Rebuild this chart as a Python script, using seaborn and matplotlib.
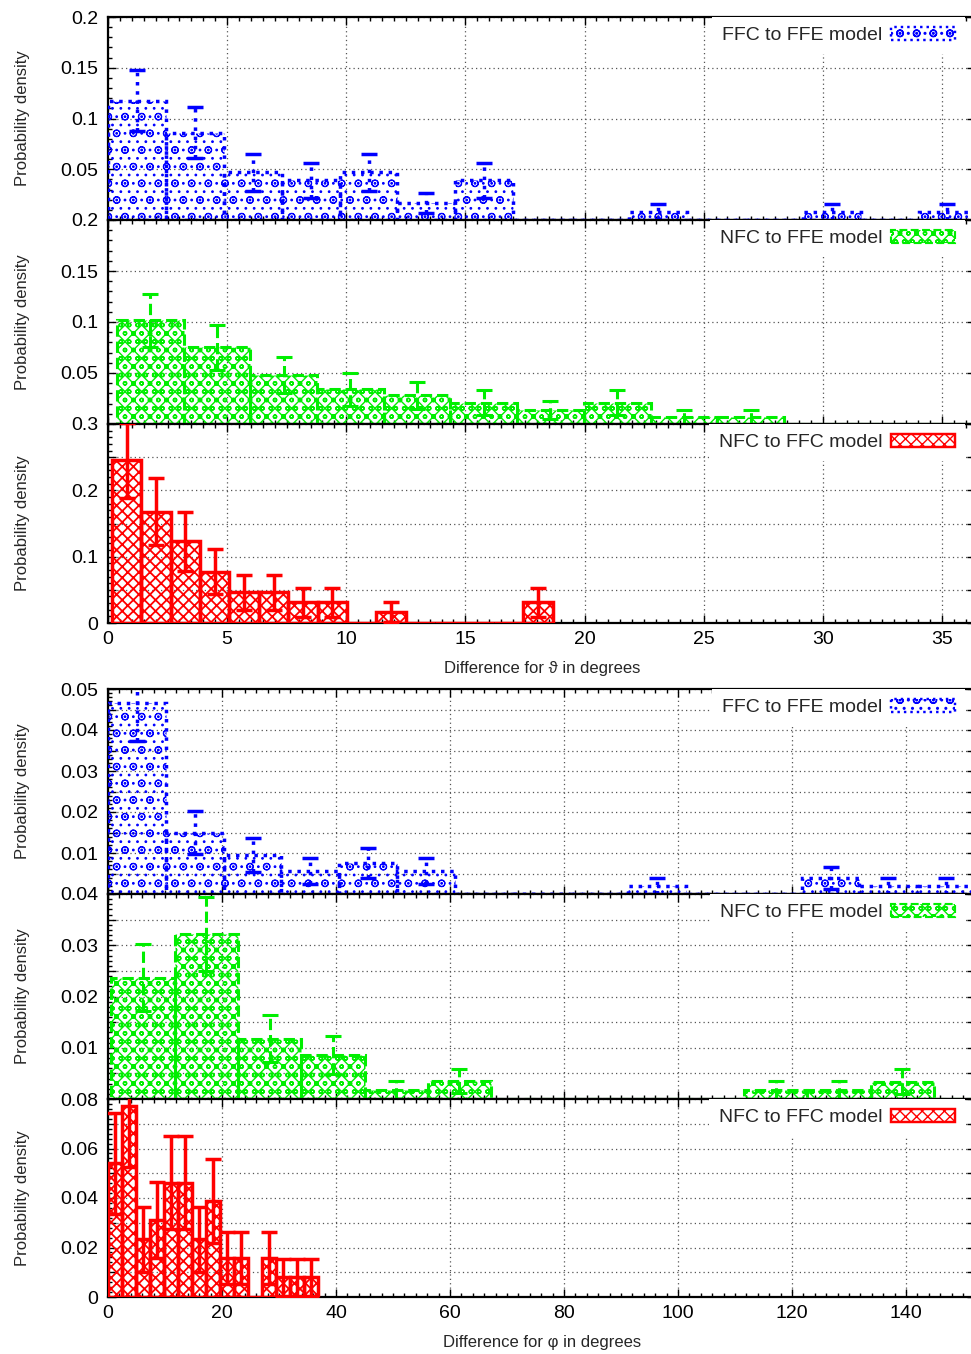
import numpy as np
import pandas as pd
import matplotlib
matplotlib.use('Agg')
import matplotlib.pyplot as plt
from matplotlib.patches import Patch
from matplotlib.ticker import FixedLocator, FixedFormatter, MultipleLocator
import seaborn as sns

# Histogrammdaten: Start, Binbreite, Hoehen, Fehler
theta_ffc_ffe_bins = (0.0, 2.43)
theta_ffc_ffe = [0.1176, 0.086, 0.047, 0.039, 0.047, 0.017, 0.039, 0, 0, 0.0078, 0, 0, 0.0078, 0, 0.0078]
theta_ffc_ffe_err = [0.030, 0.025, 0.018, 0.017, 0.018, 0.010, 0.017, 0, 0, 0.008, 0, 0, 0.008, 0, 0.008]

theta_nfc_ffe_bins = (0.37, 2.8)
theta_nfc_ffe = [0.1018, 0.075, 0.048, 0.034, 0.028, 0.021, 0.014, 0.021, 0.007, 0.007, 0, 0, 0]
theta_nfc_ffe_err = [0.026, 0.022, 0.018, 0.016, 0.013, 0.012, 0.009, 0.012, 0.007, 0.007, 0, 0, 0]

theta_nfc_ffc_bins = (0.16, 1.234)
theta_nfc_ffc = [0.245, 0.168, 0.123, 0.077, 0.046, 0.046, 0.031, 0.031, 0, 0.016, 0, 0, 0, 0, 0.031]
theta_nfc_ffc_err = [0.056, 0.051, 0.044, 0.034, 0.026, 0.026, 0.022, 0.022, 0, 0.015, 0, 0, 0, 0, 0.022]

phi_ffc_ffe_bins = (0.0, 10.14)
phi_ffc_ffe = [0.0466, 0.015, 0.0095, 0.0056, 0.0076, 0.0056, 0, 0, 0, 0.0019, 0, 0, 0.0038, 0.0019, 0.0019]
phi_ffc_ffe_err = [0.0093, 0.0052, 0.0041, 0.0032, 0.0036, 0.0032, 0, 0, 0, 0.0019, 0, 0, 0.0027, 0.0019, 0.0019]

phi_nfc_ffe_bins = (0.6, 11.1)
phi_nfc_ffe = [0.0237, 0.0322, 0.0118, 0.0086, 0.0018, 0.0035, 0, 0, 0, 0, 0.0018, 0.0018, 0.0034, 0]
phi_nfc_ffe_err = [0.0065, 0.0072, 0.0046, 0.0037, 0.0018, 0.0024, 0, 0, 0, 0, 0.0018, 0.0018, 0.0024, 0]

phi_nfc_ffc_bins = (0.0, 2.46)
phi_nfc_ffc = [0.054, 0.0772, 0.0233, 0.031, 0.0462, 0.0462, 0.0233, 0.0387, 0.0157, 0.0157, 0, 0.0157, 0.008, 0.008, 0.008]
phi_nfc_ffc_err = [0.0203, 0.0245, 0.0131, 0.0153, 0.0187, 0.0187, 0.0131, 0.017, 0.0105, 0.0105, 0, 0.0105, 0.0074, 0.0074, 0.0074]

labels = ['FFC to FFE model', 'NFC to FFE model', 'NFC to FFC model']
xlabel_theta = 'Difference for \u03d1 in degrees'
xlabel_phi = 'Difference for \u03c6 in degrees'

sns.set_style('ticks')
plt.rcParams['font.family'] = ['Liberation Sans', 'DejaVu Sans']
plt.rcParams['hatch.linewidth'] = 1.0

stile = [
    dict(color='#0000ff', hatch='o..', ls=':', lw=2.5, hlw=0.8),
    dict(color='#00ee00', hatch='xxoo', ls='--', lw=2.2, hlw=1.0),
    dict(color='#ff0000', hatch='xxx', ls='-', lw=2.5, hlw=1.3),
]

W, H = 971, 1354
fig = plt.figure(figsize=(W / 100, H / 100), dpi=100)

# (oben, unten) in Pixel
panel_px = [(17, 220), (220, 424), (424, 623), (689, 894), (894, 1099), (1099, 1297)]
left_px, right_px = 108, 975
aw = right_px - left_px

panels = [
    (theta_ffc_ffe_bins, theta_ffc_ffe, theta_ffc_ffe_err, 0, 0.2, 0.05, 0.05, 0.01, 'theta'),
    (theta_nfc_ffe_bins, theta_nfc_ffe, theta_nfc_ffe_err, 1, 0.2, 0.05, 0.05, 0.01, 'theta'),
    (theta_nfc_ffc_bins, theta_nfc_ffc, theta_nfc_ffc_err, 2, 0.3, 0.05, 0.1, 0.01, 'theta'),
    (phi_ffc_ffe_bins, phi_ffc_ffe, phi_ffc_ffe_err, 0, 0.05, 0.005, 0.01, 0.001, 'phi'),
    (phi_nfc_ffe_bins, phi_nfc_ffe, phi_nfc_ffe_err, 1, 0.04, 0.005, 0.01, 0.001, 'phi'),
    (phi_nfc_ffc_bins, phi_nfc_ffc, phi_nfc_ffc_err, 2, 0.08, 0.01, 0.02, 0.002, 'phi'),
]

for i, (bins, vals, errs, k, ytop, gstep, lstep, mstep, winkel) in enumerate(panels):
    top, bot = panel_px[i]
    ax = fig.add_axes([left_px / W, 1 - bot / H, aw / W, (bot - top) / H])
    st = stile[k]
    start, width = bins
    edges = start + width * np.arange(len(vals) + 1)
    centers = edges[:-1] + width / 2
    df = pd.DataFrame({'x': centers, 'w': vals})

    sns.histplot(data=df, x='x', weights='w', bins=list(edges), ax=ax, stat='count',
                 element='bars', fill=True, alpha=1, legend=False)
    for p in ax.patches:
        p.set_facecolor('none')
        p.set_edgecolor(st['color'])
        p.set_hatch(st['hatch'])
        if hasattr(p, 'set_hatch_linewidth'):
            p.set_hatch_linewidth(st['hlw'])
        p.set_linestyle(st['ls'])
        p.set_linewidth(st['lw'])
        p.set_zorder(2.6)

    vals_a = np.array(vals)
    errs_a = np.array(errs)
    m = errs_a > 0
    eb = ax.errorbar(centers[m], vals_a[m], yerr=errs_a[m], fmt='none',
                     ecolor=st['color'], elinewidth=st['lw'], capsize=6,
                     capthick=st['lw'], zorder=3)
    eb[2][0].set_linestyle(st['ls'])

    # Achsen
    if winkel == 'theta':
        ax.set_xlim(0, 36.39)
        ax.xaxis.set_major_locator(MultipleLocator(5))
        ax.xaxis.set_minor_locator(MultipleLocator(0.5))
    else:
        ax.set_xlim(0, 152.1)
        ax.xaxis.set_major_locator(MultipleLocator(20))
        ax.xaxis.set_minor_locator(MultipleLocator(2))
    ax.set_ylim(0, ytop)

    gpos = np.round(np.arange(0, ytop + gstep / 2, gstep), 5)
    glab = []
    for g in gpos:
        if g == 0:
            glab.append('0' if k == 2 else '')
        elif abs(round(g / lstep) * lstep - g) < 1e-9:
            glab.append('%g' % g)
        else:
            glab.append('')
    ax.yaxis.set_major_locator(FixedLocator(gpos))
    ax.yaxis.set_major_formatter(FixedFormatter(glab))
    ax.yaxis.set_minor_locator(MultipleLocator(mstep))

    ax.tick_params(which='both', direction='in', top=True, right=True, width=1, colors='black')
    ax.tick_params(which='major', length=6, labelsize=14, pad=7)
    ax.tick_params(which='minor', length=3)
    ax.tick_params(axis='x', pad=6)
    if k != 2:
        ax.tick_params(axis='x', labelbottom=False)

    ax.grid(True, which='major', color='#555555', linestyle=(0, (1, 2.5)), linewidth=0.9)
    ax.set_axisbelow(True)
    for s in ax.spines.values():
        s.set_linewidth(1.6)
        s.set_color('black')

    ax.set_ylabel('Probability density', fontsize=12)
    ax.yaxis.set_label_coords(-0.0895, 0.5)
    if k == 2:
        ax.set_xlabel(xlabel_theta if winkel == 'theta' else xlabel_phi, fontsize=12)
        ax.xaxis.set_label_coords(0.5 + 1 / aw, -(38 / (bot - top)))
    else:
        ax.set_xlabel('')

    handle = Patch(facecolor='none', edgecolor=st['color'], hatch=st['hatch'],
                   linestyle=st['ls'], linewidth=st['lw'] * 0.7)
    leg = ax.legend([handle], [labels[k]], loc='upper right', fontsize=14,
                    markerfirst=False, handlelength=3.3, handleheight=0.7,
                    frameon=True, fancybox=False, framealpha=1,
                    borderaxespad=0.0, borderpad=0.5, handletextpad=0.45,
                    bbox_to_anchor=(1 - 10 / aw, 1))
    leg.get_frame().set_edgecolor('white')
    leg.get_frame().set_linewidth(0)
    leg.set_zorder(5)

fig.savefig('out.png', dpi=100)
